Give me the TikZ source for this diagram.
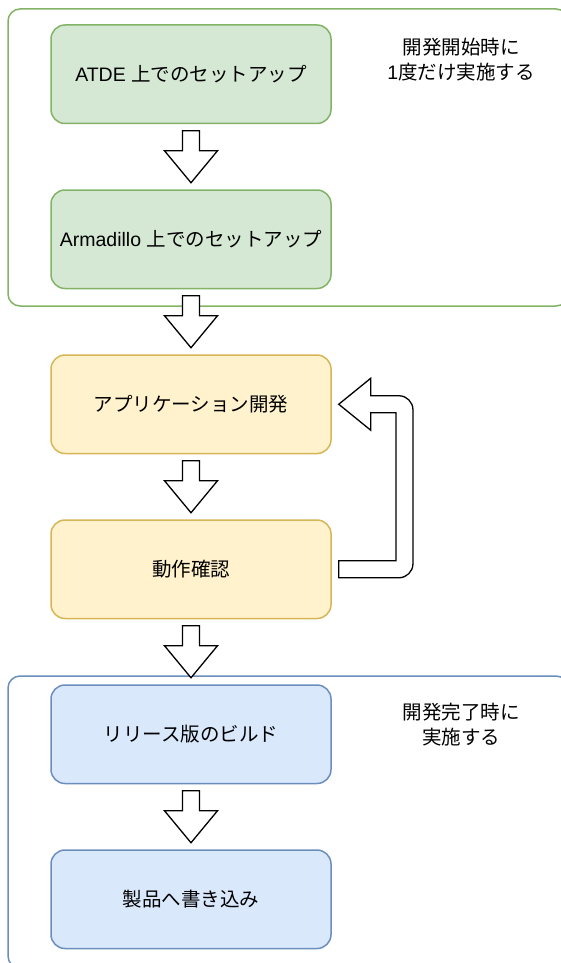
\documentclass[tikz,border=0pt]{standalone}
\usepackage{fontspec}
\setmainfont{Liberation Sans}
\newfontfamily\jp{Noto Sans CJK JP}
\usetikzlibrary{calc}
\definecolor{gfill}{HTML}{D5E8D4}
\definecolor{gline}{HTML}{82B366}
\definecolor{yfill}{HTML}{FFF2CC}
\definecolor{yline}{HTML}{D6B656}
\definecolor{bfill}{HTML}{DAE8FC}
\definecolor{bline}{HTML}{6C8EBF}
\tikzset{
  stepshape/.style={rounded corners=14pt, minimum width=280pt, minimum height=98.5pt,
    inner sep=0pt, line width=1.5pt, font=\fontsize{19.5}{23}\selectfont, align=center},
  greenbox/.style={stepshape, draw=gline, fill=gfill},
  yellowbox/.style={stepshape, draw=yline, fill=yfill},
  bluebox/.style={stepshape, draw=bline, fill=bfill},
  grp/.style={rounded corners=12pt, line width=1.5pt},
  flexarr/.style={draw=black, fill=white, line width=1.3pt, line join=miter},
  lbl/.style={font=\fontsize{19.5}{25}\selectfont, align=center, inner sep=0pt},
}
\newcommand\fdarrow[2]{%
  \draw[flexarr] ($(#1.south)+(-8.5,6.5)$) -- ($(#1.south)+(8.5,6.5)$)
    -- ($(#2.north)+(8.5,-38.5)$) -- ($(#2.north)+(26.5,-38.5)$)
    -- ($(#2.north)+(0,-6.5)$) -- ($(#2.north)+(-26.5,-38.5)$)
    -- ($(#2.north)+(-8.5,-38.5)$) -- cycle;}
\begin{document}
\begin{tikzpicture}[x=1pt,y=-1pt]
\useasboundingbox (0,0) rectangle (561,963);
\clip (0,0) rectangle (561,963);
% groups
\draw[grp, draw=gline] (8,9) rectangle (568,306);
\draw[grp, draw=bline] (8,676) rectangle (568,968);
% steps
\node[greenbox] (atde) at (191,74.25) {ATDE {\jp 上でのセットアップ}};
\node[greenbox] (arm) at (191,239.25) {Armadillo {\jp 上でのセットアップ}};
\node[yellowbox] (app) at (191,404.25) {{\jp アプリケーション開発}};
\node[yellowbox] (check) at (191,569.25) {{\jp 動作確認}};
\node[bluebox] (rel) at (191,734.25) {{\jp リリース版のビルド}};
\node[bluebox] (prod) at (191,899.25) {{\jp 製品へ書き込み}};
% labels
\node[lbl] (lab1) at (461,59.5) {{\jp 開発開始時に}\\1{\jp 度だけ実施する}};
\node[lbl] (lab2) at (461,724.5) {{\jp 開発完了時に}\\{\jp 実施する}};
% arrows
\fdarrow{atde}{arm}
\fdarrow{arm}{app}
\fdarrow{app}{check}
\fdarrow{check}{rel}
\fdarrow{rel}{prod}
% loop arrow
\coordinate (ls) at ($(check.east)+(7,0)$);
\coordinate (le) at ($(app.east)+(7,0)$);
\draw[flexarr] ($(ls)+(0,-8.5)$) -- ($(ls)+(57.2,-8.5)$) -- ($(le)+(57.2,8.5)$)
  -- ($(le)+(32,8.5)$) -- ($(le)+(32,26)$) -- (le) -- ($(le)+(32,-26)$)
  -- ($(le)+(32,-8.5)$) -- ($(le)+(60.2,-8.5)$)
  .. controls ($(le)+(67.9,-8.5)$) and ($(le)+(74.2,-2.2)$) .. ($(le)+(74.2,5.5)$)
  -- ($(ls)+(74.2,-5.5)$)
  .. controls ($(ls)+(74.2,2.2)$) and ($(ls)+(67.9,8.5)$) .. ($(ls)+(60.2,8.5)$)
  -- ($(ls)+(0,8.5)$) -- cycle;
\end{tikzpicture}
\end{document}
